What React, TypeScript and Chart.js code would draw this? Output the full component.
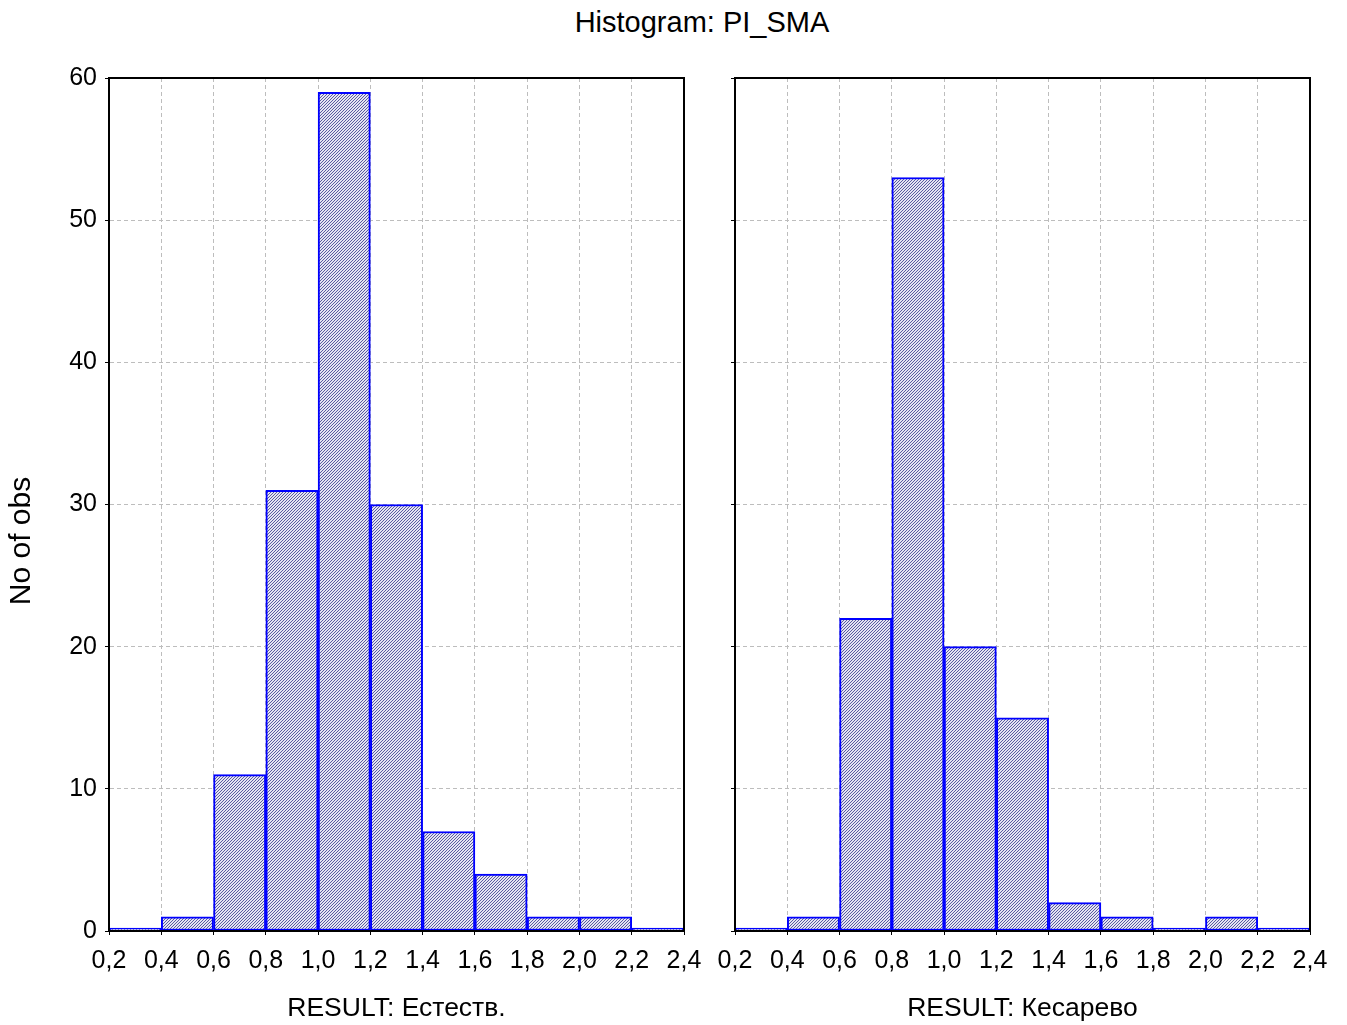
import React, { useEffect, useRef } from "react";
import { Chart, registerables } from "chart.js";

Chart.register(...registerables);

const binCenters = [0.3, 0.5, 0.7, 0.9, 1.1, 1.3, 1.5, 1.7, 1.9, 2.1, 2.3];
const countsEstestv = [0, 1, 11, 31, 59, 30, 7, 4, 1, 1, 0];
const countsKesarevo = [0, 1, 22, 53, 20, 15, 2, 1, 0, 1, 0];
const xTickMin = 0.2;
const xTickMax = 2.4;
const xTickStep = 0.2;
const yTickMax = 60;
const yTickStep = 10;
const mainTitle = "Histogram: PI_SMA";
const yTitle = "No of obs";
const leftXTitle = "RESULT: Естеств.";
const rightXTitle = "RESULT: Кесарево";

const FONT = "'Liberation Sans', Arial, sans-serif";

function makePattern(): CanvasPattern | string {
  const c = document.createElement("canvas");
  c.width = 3;
  c.height = 3;
  const ctx = c.getContext("2d");
  if (!ctx) return "#b0b0d3";
  ctx.fillStyle = "#e4e4f2";
  ctx.fillRect(0, 0, 3, 3);
  ctx.fillStyle = "#5a5aa0";
  for (let y = 0; y < 3; y++) {
    for (let x = 0; x < 3; x++) {
      if ((x + y) % 3 === 0) ctx.fillRect(x, y, 1, 1);
    }
  }
  const p = ctx.createPattern(c, "repeat");
  return p || "#b0b0d3";
}

function fmt(v: number) {
  return (Math.round(v * 10) / 10).toFixed(1).replace(".", ",");
}

type PanelProps = {
  counts: number[];
  xTitle: string;
  showY: boolean;
  left: number;
  width: number;
  yAxisWidth: number;
  padRight: number;
};

function Panel({ counts, xTitle, showY, left, width, yAxisWidth, padRight }: PanelProps) {
  const ref = useRef<HTMLCanvasElement | null>(null);
  useEffect(() => {
    if (!ref.current) return;
    const pattern = makePattern();
    const yTitlePlugin = {
      id: "yTitlePlugin",
      afterDraw(chart: any) {
        if (!showY) return;
        const ctx = chart.ctx;
        ctx.save();
        ctx.translate(22, 541);
        ctx.rotate(-Math.PI / 2);
        ctx.font = `30px ${FONT}`;
        ctx.fillStyle = "#000";
        ctx.textAlign = "center";
        ctx.textBaseline = "middle";
        ctx.fillText(yTitle, 0, 0);
        ctx.restore();
      },
    };
    const chart = new Chart(ref.current, {
      type: "bar",
      data: {
        datasets: [
          {
            data: binCenters.map((x, i) => ({ x, y: counts[i] })),
            backgroundColor: pattern as any,
            borderColor: "#0000ff",
            borderWidth: 2,
            borderSkipped: false,
            barPercentage: 1,
            categoryPercentage: 1,
            minBarLength: 3,
          },
        ],
      },
      options: {
        animation: false,
        responsive: false,
        maintainAspectRatio: false,
        layout: { padding: { top: 78, right: padRight, left: 0, bottom: 0 } },
        plugins: {
          legend: { display: false },
          tooltip: { enabled: false },
          title: { display: false },
        },
        scales: {
          x: {
            type: "linear",
            offset: false,
            min: xTickMin,
            max: xTickMax,
            ticks: {
              stepSize: xTickStep,
              autoSkip: false,
              maxRotation: 0,
              color: "#000",
              font: { family: FONT, size: 25 },
              padding: 11,
              callback: (v: any) => fmt(Number(v)),
            },
            grid: {
              offset: false,
              color: "#bdbdbd",
              tickColor: "#000",
              tickLength: 4,
              lineWidth: 1,
            },
            border: { display: true, color: "#000", width: 2, dash: [4, 3] },
            title: {
              display: true,
              text: xTitle,
              color: "#000",
              font: { family: FONT, size: 26.5 },
              padding: { top: 4, bottom: 0 },
            },
            afterFit: (s: any) => {
              s.height = 94;
            },
          } as any,
          y: {
            type: "linear",
            min: 0,
            max: yTickMax,
            ticks: {
              stepSize: yTickStep,
              display: showY,
              color: "#000",
              font: { family: FONT, size: 25 },
              padding: 8,
            },
            grid: {
              color: "#bdbdbd",
              tickColor: "#000",
              tickLength: 4,
              lineWidth: 1,
            },
            border: { display: true, color: "#000", width: 2, dash: [4, 3] },
            afterFit: (s: any) => {
              s.width = yAxisWidth;
            },
          } as any,
        },
      },
      plugins: [
        yTitlePlugin,
        {
          id: "frame",
          afterDraw(chart: any) {
            const { left: l, right: r, top: t, bottom: b } = chart.chartArea;
            const ctx = chart.ctx;
            ctx.save();
            ctx.setLineDash([]);
            ctx.strokeStyle = "#000";
            ctx.lineWidth = 2;
            ctx.strokeRect(l, t, r - l, b - t);
            ctx.restore();
          },
        },
      ],
    });
    return () => chart.destroy();
  }, []);
  return (
    <canvas
      ref={ref}
      width={width}
      height={1025}
      style={{ position: "absolute", left, top: 0, width, height: 1025 }}
    />
  );
}

export default function App() {
  return (
    <div
      style={{
        position: "absolute",
        left: 0,
        top: 0,
        width: 1347,
        height: 1025,
        background: "#fff",
        overflow: "hidden",
      }}
    >
      <div
        style={{
          position: "absolute",
          top: 4,
          left: 0,
          width: 1404,
          textAlign: "center",
          fontFamily: FONT,
          fontSize: 29,
          color: "#000",
          lineHeight: "36px",
        }}
      >
        {mainTitle}
      </div>
      <Panel
        counts={countsEstestv}
        xTitle={leftXTitle}
        showY={true}
        left={0}
        width={730}
        yAxisWidth={109}
        padRight={46}
      />
      <Panel
        counts={countsKesarevo}
        xTitle={rightXTitle}
        showY={false}
        left={647}
        width={700}
        yAxisWidth={88}
        padRight={37}
      />
    </div>
  );
}
